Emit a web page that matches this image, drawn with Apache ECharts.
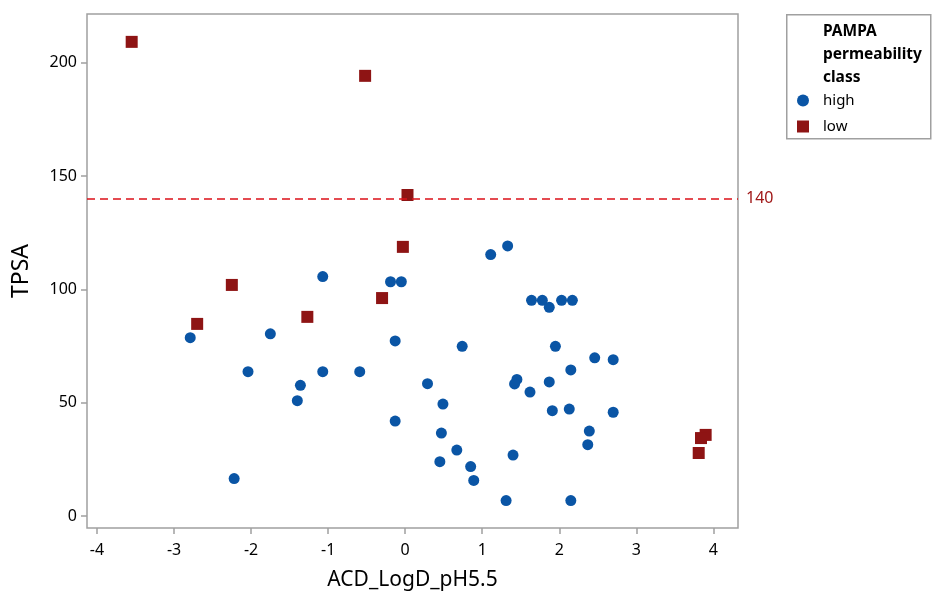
<!DOCTYPE html>
<html>
<head>
<meta charset="utf-8">
<script src="https://cdn.jsdelivr.net/npm/echarts@6/dist/echarts.min.js"></script>
<style>
  html, body { margin: 0; padding: 0; background: #fff; }
  #chart { width: 932px; height: 594px; }
</style>
</head>
<body>
<div id="chart"></div>
<script>
// PAMPA permeability: TPSA vs ACD LogD at pH 5.5
const xTicks = [-4, -3, -2, -1, 0, 1, 2, 3, 4];
const yTicks = [0, 50, 100, 150, 200];
const tpsaLimit = 140;

// [LogD, TPSA] for compounds classed "high"
const highPoints = [
  [-1.07, 105.7], [-0.19, 103.4], [-0.05, 103.4], [-2.79, 78.7], [-1.75, 80.4],
  [-0.13, 77.3], [0.74, 74.9], [-2.04, 63.7], [-1.07, 63.7], [-0.59, 63.7],
  [-1.36, 57.7], [-1.40, 50.9], [0.29, 58.4], [0.49, 49.4], [-0.13, 41.9],
  [0.47, 36.6], [0.67, 29.1], [0.45, 24.0], [0.85, 21.8], [0.89, 15.7],
  [-2.22, 16.5], [1.33, 119.2], [1.11, 115.4], [1.64, 95.2], [1.78, 95.2],
  [1.87, 92.1], [2.03, 95.2], [2.17, 95.2], [1.95, 74.9], [2.46, 69.8],
  [2.70, 69.0], [2.15, 64.5], [1.45, 60.3], [1.42, 58.3], [1.62, 54.7],
  [1.87, 59.2], [1.91, 46.5], [2.13, 47.2], [2.70, 45.8], [2.39, 37.5],
  [2.37, 31.5], [1.40, 26.9], [1.31, 6.8], [2.15, 6.8]
];

// [LogD, TPSA] for compounds classed "low"
const lowPoints = [
  [-3.55, 209.3], [-0.52, 194.3], [0.03, 141.7], [-0.03, 118.8], [-0.30, 96.2],
  [-2.25, 102.0], [-2.70, 84.8], [-1.27, 87.9], [3.90, 35.8], [3.84, 34.4],
  [3.81, 27.8]
];

const font = '"Noto Sans", "Open Sans", sans-serif';
const chart = echarts.init(document.getElementById('chart'), null, { renderer: 'canvas' });

chart.setOption({
  animation: false,
  backgroundColor: '#ffffff',
  textStyle: { fontFamily: font },
  grid: {
    left: 87, top: 14, right: 194, bottom: 66,
    outerBoundsMode: 'none',
    containLabel: false,
    show: true, borderColor: '#a0a0a0', borderWidth: 1.5, backgroundColor: '#ffffff'
  },
  xAxis: {
    type: 'value',
    min: -4.13, max: 4.32,
    name: 'ACD_LogD_pH5.5',
    nameLocation: 'middle',
    nameGap: 42,
    nameTextStyle: { color: '#000', fontSize: 21, fontFamily: font },
    axisLine: { show: false, onZero: false },
    splitLine: { show: false },
    axisTick: { show: true, length: 6, lineStyle: { color: '#a0a0a0', width: 1.5 }, customValues: xTicks },
    axisLabel: { color: '#000', fontSize: 16, margin: 14, customValues: xTicks, fontFamily: font }
  },
  yAxis: {
    type: 'value',
    min: -5.3, max: 221.6,
    name: 'TPSA',
    nameLocation: 'middle',
    nameGap: 54,
    nameTextStyle: { color: '#000', fontSize: 23, fontFamily: font },
    axisLine: { show: false, onZero: false },
    splitLine: { show: false },
    axisTick: { show: true, length: 6, lineStyle: { color: '#a0a0a0', width: 1.5 }, customValues: yTicks },
    axisLabel: { color: '#000', fontSize: 16, margin: 10, customValues: yTicks, fontFamily: font }
  },
  legend: {
    orient: 'vertical',
    left: 797, top: 93,
    itemWidth: 12, itemHeight: 12,
    itemGap: 11,
    padding: 0,
    textStyle: { color: '#000', fontSize: 15, fontFamily: font, padding: [0, 0, 0, 9] },
    data: [
      { name: 'high', icon: 'circle' },
      { name: 'low', icon: 'rect' }
    ]
  },
  graphic: [
    {
      type: 'rect', left: 786, top: 14, z: -1,
      shape: { width: 144, height: 124 },
      style: { fill: '#fff', stroke: '#a0a0a0', lineWidth: 1.5 }
    },
    {
      type: 'text', left: 823, top: 20,
      style: {
        text: 'PAMPA\npermeability\nclass',
        fill: '#000', font: 'bold 15.5px ' + font, lineHeight: 23
      }
    }
  ],
  series: [
    {
      name: 'high', type: 'scatter', symbol: 'circle', symbolSize: 11,
      itemStyle: { color: '#0a55a5', opacity: 1 },
      data: highPoints, z: 3
    },
    {
      name: 'low', type: 'scatter', symbol: 'rect', symbolSize: 12,
      itemStyle: { color: '#8e1414', opacity: 1 },
      data: lowPoints, z: 4,
      markLine: {
        silent: true, symbol: 'none', animation: false,
        lineStyle: { color: '#dc1018', type: [8, 5], width: 1.5 },
        label: { show: true, position: 'end', color: '#a01818', fontSize: 16, fontFamily: font, distance: 8 },
        data: [{ yAxis: tpsaLimit }]
      }
    }
  ]
});
</script>
</body>
</html>
